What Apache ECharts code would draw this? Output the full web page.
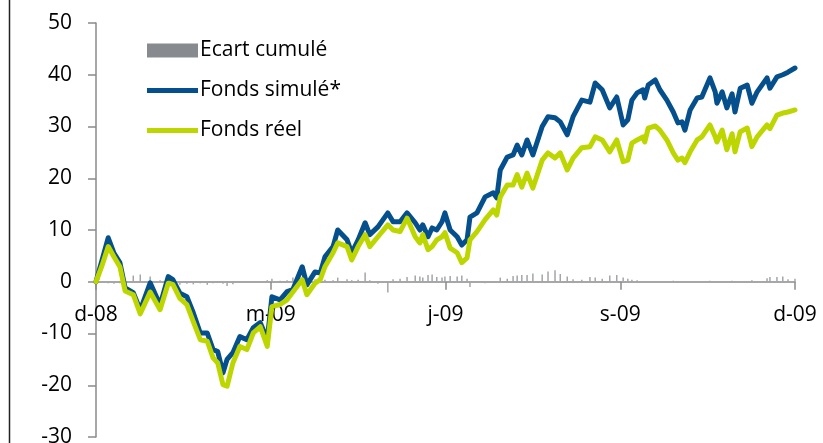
<!DOCTYPE html>
<html>
<head>
<meta charset="utf-8">
<script src="https://cdn.jsdelivr.net/npm/echarts@6/dist/echarts.min.js"></script>
<style>
  html, body { margin: 0; padding: 0; background: #fff; }
  #chart { width: 823px; height: 443px; }
</style>
</head>
<body>
<div id="chart"></div>
<script>
// x position in months since d-08 (tick every 3 months)
var months = [0, 0.10, 0.21, 0.31, 0.41, 0.50, 0.64, 0.76, 0.93, 1.10,
	1.24, 1.32, 1.44, 1.56, 1.67, 1.79, 1.91, 2.01, 2.09, 2.18,
	2.25, 2.35, 2.47, 2.59, 2.70, 2.82, 2.94, 3.02, 3.16, 3.28,
	3.38, 3.54, 3.62, 3.76, 3.85, 3.93, 4.07, 4.15, 4.31, 4.39,
	4.50, 4.62, 4.70, 4.84, 5.01, 5.10, 5.22, 5.34, 5.48, 5.56,
	5.61, 5.70, 5.77, 5.85, 5.94, 5.99, 6.08, 6.20, 6.28, 6.37,
	6.42, 6.54, 6.68, 6.82, 6.88, 6.94, 7.06, 7.16, 7.23, 7.31,
	7.40, 7.50, 7.66, 7.76, 7.88, 7.97, 8.09, 8.19, 8.34, 8.48,
	8.57, 8.69, 8.82, 8.94, 9.05, 9.13, 9.20, 9.29, 9.39, 9.42,
	9.48, 9.60, 9.68, 9.80, 9.91, 9.99, 10.06, 10.11, 10.20, 10.32,
	10.40, 10.54, 10.63, 10.66, 10.75, 10.83, 10.92, 10.97, 11.06, 11.18,
	11.26, 11.35, 11.52, 11.57, 11.69, 11.79, 11.88, 12.00];

var simule = [0, 4.0, 8.5, 5.5, 3.7, -1.2, -2.1, -5.5, -0.2, -4.5,
	1.0, 0.4, -2.2, -2.9, -6.0, -9.9, -9.9, -13.1, -13.5, -17.6,
	-15.0, -13.7, -10.6, -11.2, -8.9, -7.9, -11.2, -2.9, -3.5, -1.9,
	-1.5, 2.9, -0.6, 1.9, 1.7, 4.8, 6.8, 10.0, 8.1, 5.6,
	8.1, 11.4, 9.1, 10.6, 13.3, 11.6, 11.6, 13.3, 11.4, 10.0,
	11.0, 8.7, 10.4, 10.0, 11.6, 13.3, 10.0, 8.7, 7.1, 8.1,
	12.5, 13.3, 16.4, 17.2, 16.2, 21.6, 24.1, 24.5, 26.4, 24.5,
	27.4, 24.5, 30.0, 31.9, 31.7, 30.9, 28.4, 31.9, 35.1, 34.7,
	38.4, 37.1, 33.6, 35.7, 30.3, 31.3, 35.1, 36.5, 37.1, 35.5,
	38.0, 39.0, 37.1, 35.1, 32.8, 30.7, 30.9, 29.3, 33.2, 35.5,
	35.7, 39.4, 36.7, 34.5, 36.7, 33.6, 36.3, 32.8, 37.4, 38.0,
	34.5, 36.7, 39.4, 37.4, 39.6, 40.0, 40.5, 41.3];

var reel = [0, 3.0, 6.8, 4.8, 2.9, -1.8, -2.5, -6.2, -2.0, -5.4,
	-0.3, -0.5, -3.2, -4.4, -7.7, -11.2, -11.5, -14.7, -15.7, -19.9,
	-20.2, -15.7, -12.5, -13.1, -9.9, -8.7, -12.5, -4.8, -4.4, -3.5,
	-2.0, 0.4, -2.5, -0.3, 0.4, 2.9, 5.6, 7.5, 6.8, 4.2,
	6.8, 9.1, 6.8, 8.7, 11.0, 10.0, 9.7, 12.3, 8.7, 7.5,
	9.1, 6.2, 6.8, 8.1, 8.7, 9.5, 6.5, 5.6, 3.7, 4.6,
	8.1, 9.7, 12.0, 13.9, 12.9, 16.4, 18.7, 18.7, 20.7, 18.3,
	21.0, 18.1, 23.5, 24.9, 23.9, 24.9, 21.6, 23.9, 25.9, 26.1,
	28.0, 27.4, 25.1, 27.4, 23.2, 23.5, 26.8, 27.4, 28.0, 27.0,
	29.7, 30.1, 29.3, 27.4, 24.9, 23.5, 23.9, 23.0, 25.1, 27.4,
	28.0, 30.3, 28.0, 27.0, 29.3, 25.5, 28.6, 25.1, 29.0, 29.7,
	26.1, 28.0, 30.3, 29.6, 32.2, 32.6, 32.8, 33.2];

var ecart = [0, 0, -0.3, -0.4, -0.3, 0.3, 1.2, 1.4, 1.0, 0.3,
	-0.2, -0.5, -0.6, -0.4, -0.5, -0.3, -0.6, -0.3, -0.2, -0.4,
	-0.8, -0.5, -0.2, -0.1, 0.1, -0.1, 0.3, 0.6, 0.2, 0.3,
	0.8, 0.2, -0.3, 0.5, 0.6, 0.4, 0.3, 0.8, 0.5, 0.3,
	0.4, 1.8, 0.3, -0.4, -2.1, 0.5, 0.6, 0.9, 1.2, 1.0,
	0.8, 1.3, 1.4, 0.9, 0.8, 1.0, 1.1, 1.0, 1.2, 0.6,
	-1.0, -0.2, -0.3, -0.2, 0.1, 0.8, 0.6, 1.1, 1.2, 1.3,
	1.3, 1.6, 1.4, 2.0, 2.2, 1.5, 1.0, 0.5, 0.4, 0.9,
	0.8, 0.6, 1.2, 1.3, 0.8, 0.6, 0.4, 0.3, 0.1, 0.0,
	0.0, -0.1, 0.0, 0.1, 0.2, 0.1, 0.0, 0.1, -0.1, 0.1,
	-0.1, 0.2, 0.1, 0.0, 0.1, 0.0, 0.2, 0.1, 0.0, 0.1,
	0.3, 0.1, 0.7, 0.9, 0.9, 1.0, 0.5, 0.6];

var quarterLabels = ['d-08', 'm-09', 'j-09', 's-09', 'd-09'];
var yTicks = [-30, -20, -10, 0, 10, 20, 30, 40, 50];

function pairs(values) {
	return values.map(function(v, i) { return [months[i], v]; });
}

var chart = echarts.init(document.getElementById('chart'));
var fontName = 'Open Sans';
var gridTop = 23, gridBottom = 6, H = 443;
// put the x axis on the zero line
var plotH = H - gridTop - gridBottom;
var zeroOffset = -plotH * (0 - yTicks[0]) / (yTicks[yTicks.length - 1] - yTicks[0]);
var lineIcon = 'path://M0,0L51,0L51,5L0,5Z';

var option = {
	animation: false,
	textStyle: { fontFamily: fontName },
	grid: { left: 96, right: 28, top: gridTop, bottom: gridBottom, containLabel: false, outerBoundsMode: 'none' },
	legend: {
		orient: 'vertical',
		left: 142,
		top: 34,
		itemWidth: 51,
		itemHeight: 14,
		itemGap: 17,
		symbolKeepAspect: true,
		textStyle: { fontFamily: fontName, fontSize: 21, color: '#000', lineHeight: 23, padding: [0, 0, 0, -3] },
		data: [
			{ name: 'Ecart cumulé', icon: 'rect', itemStyle: { color: '#878b8f' } },
			{ name: 'Fonds simulé*', icon: lineIcon },
			{ name: 'Fonds réel', icon: lineIcon }
		]
	},
	xAxis: {
		type: 'value',
		min: 0,
		max: 12,
		interval: 3,
		offset: zeroOffset,
		splitLine: { show: false },
		axisLine: { onZero: false, lineStyle: { color: '#8a8a8a', width: 1.5 } },
		axisTick: { show: true, length: 8, lineStyle: { color: '#8a8a8a', width: 1.5 } },
		axisLabel: {
			margin: 23,
			fontSize: 21,
			color: '#000',
			fontFamily: fontName,
			formatter: function(v) { return quarterLabels[Math.round(v / 3)]; }
		}
	},
	yAxis: {
		type: 'value',
		min: yTicks[0],
		max: yTicks[yTicks.length - 1],
		interval: 10,
		splitLine: { show: false },
		axisLine: { show: true, onZero: false, lineStyle: { color: '#8a8a8a', width: 1.5 } },
		axisTick: { show: true, length: 8, lineStyle: { color: '#8a8a8a', width: 1.5 } },
		axisLabel: { margin: 24, fontSize: 21, color: '#000', fontFamily: fontName }
	},
	graphic: [{
		type: 'line',
		shape: { x1: 9.5, y1: 0, x2: 9.5, y2: 443 },
		style: { stroke: '#222', lineWidth: 1.5 }
	}],
	series: [{
		name: 'Ecart cumulé',
		type: 'bar',
		barWidth: 1.5,
		itemStyle: { color: '#a3a6a9' },
		data: pairs(ecart),
		z: 1
	}, {
		name: 'Fonds simulé*',
		type: 'line',
		symbol: 'none',
		lineStyle: { color: '#05508c', width: 5, join: 'round', cap: 'round' },
		itemStyle: { color: '#05508c' },
		data: pairs(simule),
		z: 2
	}, {
		name: 'Fonds réel',
		type: 'line',
		symbol: 'none',
		lineStyle: { color: '#bed600', width: 5, join: 'round', cap: 'round' },
		itemStyle: { color: '#bed600' },
		data: pairs(reel),
		z: 3
	}]
};

chart.setOption(option);
</script>
</body>
</html>
